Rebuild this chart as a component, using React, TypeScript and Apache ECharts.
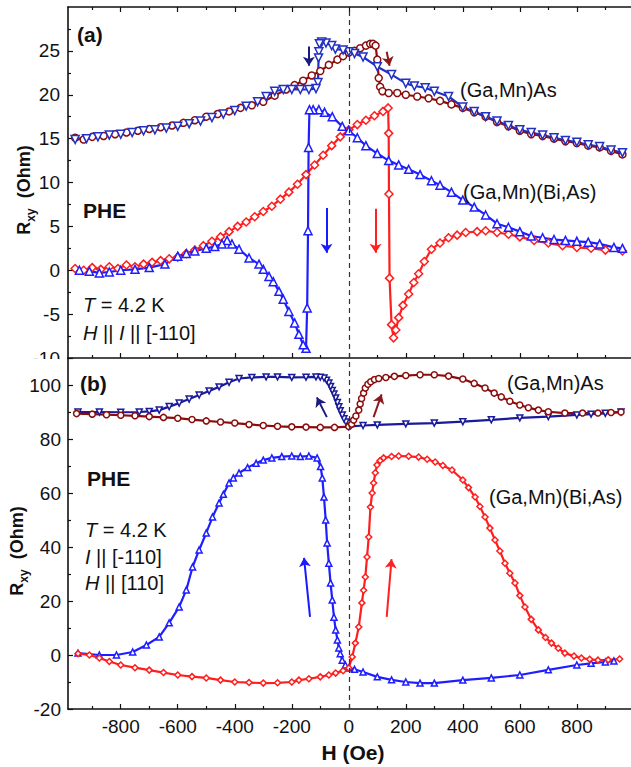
import React, { useEffect, useRef } from "react";
import * as echarts from "echarts";

// ---------- data (H in Oe, Rxy in Ohm) ----------
// Panel (a)
const aGaMnAsUp: [number, number][] = [
  [-960, 15.1], [-930, 14.9], [-900, 15.2], [-860, 15.3], [-820, 15.5], [-780, 15.7], [-740, 15.9], [-700, 16.1],
  [-660, 16.3], [-620, 16.5], [-580, 16.8], [-540, 17.1], [-500, 17.5], [-460, 17.8], [-420, 18.1], [-380, 18.5],
  [-340, 18.8], [-300, 19.2], [-260, 19.9], [-220, 20.6], [-190, 21.1], [-160, 21.6], [-130, 22.2], [-100, 22.7],
  [-70, 23.4], [-40, 24.0], [-20, 24.4], [0, 24.8], [20, 25.0], [40, 25.3], [60, 25.6], [75, 25.8], [85, 25.8],
  [94, 25.6], [100, 24.0], [105, 21.9], [110, 20.9], [118, 20.4], [140, 20.2], [170, 20.2], [200, 20.0], [240, 19.8],
  [280, 19.6], [320, 19.3], [360, 18.9], [400, 18.5], [440, 18.0], [480, 17.5], [520, 16.9], [560, 16.4], [600, 15.9],
  [640, 15.5], [680, 15.3], [720, 15.0], [760, 14.7], [800, 14.5], [840, 14.2], [880, 14.0], [920, 13.6], [960, 13.2],
];
const aGaMnAsDown: [number, number][] = [
  [960, 13.4], [920, 13.7], [880, 14.1], [840, 14.3], [800, 14.6], [760, 14.8], [720, 15.1], [680, 15.4], [640, 15.7],
  [600, 16.0], [560, 16.5], [520, 17.0], [480, 17.5], [440, 18.1], [400, 18.6], [350, 19.8], [300, 20.4], [268, 20.8],
  [230, 21.0], [200, 21.3], [150, 22.3], [100, 23.2], [50, 24.3], [20, 24.7], [0, 24.9], [-20, 25.1], [-47, 25.2],
  [-60, 25.6], [-80, 25.9], [-95, 26.0], [-103, 25.8], [-105, 24.9], [-106, 24.2], [-108, 21.4], [-115, 20.7],
  [-140, 20.6], [-170, 20.6], [-200, 20.6], [-230, 20.6], [-260, 20.4], [-290, 19.8], [-320, 19.2], [-360, 18.7],
  [-400, 18.2], [-440, 17.8], [-480, 17.4], [-520, 17.0], [-560, 16.7], [-600, 16.4], [-640, 16.2], [-680, 16.0],
  [-720, 15.9], [-760, 15.7], [-800, 15.5], [-840, 15.4], [-880, 15.2], [-920, 15.0], [-960, 14.9],
];
const aGaMnBiAsUp: [number, number][] = [
  [-960, 0.2], [-930, 0.0], [-900, 0.3], [-870, 0.1], [-840, 0.4], [-810, 0.2], [-780, 0.6], [-750, 0.4], [-720, 0.7],
  [-690, 0.9], [-660, 1.1], [-630, 1.3], [-600, 1.5], [-570, 1.9], [-540, 2.3], [-510, 2.8], [-480, 3.3], [-450, 3.8],
  [-420, 4.4], [-390, 5.0], [-360, 5.5], [-330, 6.1], [-300, 6.7], [-270, 7.3], [-240, 8.1], [-210, 8.9], [-180, 9.8],
  [-150, 10.9], [-120, 12.0], [-90, 13.1], [-60, 14.2], [-30, 15.2], [0, 16.0], [30, 16.6], [60, 17.1], [90, 17.6],
  [120, 18.1], [138, 18.5], [140, 15.6], [141, 8.7], [143, -0.9], [150, -6.2], [157, -7.7], [165, -6.8], [175, -5.4],
  [190, -4.0], [210, -2.7], [228, -1.4], [245, -0.4], [265, 1.0], [290, 2.4], [320, 3.1], [350, 3.7], [380, 4.0],
  [410, 4.3], [450, 4.4], [480, 4.5], [520, 4.3], [560, 4.1], [600, 3.8], [650, 3.4], [700, 3.1], [750, 2.8],
  [800, 2.6], [850, 2.5], [900, 2.3], [960, 2.2],
];
const aGaMnBiAsDown: [number, number][] = [
  [960, 2.5], [930, 2.6], [880, 3.0], [840, 3.2], [800, 3.3], [760, 3.4], [720, 3.5], [680, 3.7], [640, 3.9],
  [600, 4.4], [560, 4.9], [520, 5.3], [480, 6.3], [440, 7.2], [400, 8.0], [360, 8.9], [320, 9.7], [290, 10.2],
  [250, 10.9], [210, 11.5], [175, 12.0], [140, 12.5], [100, 13.3], [60, 14.2], [30, 15.1], [0, 15.9], [-23, 16.4],
  [-58, 17.5], [-85, 18.0], [-105, 18.3], [-125, 18.3], [-138, 18.3], [-141, 14.0], [-143, 4.5], [-146, -4.3],
  [-150, -8.9], [-160, -8.5], [-175, -7.3], [-190, -6.0], [-210, -4.7], [-230, -3.3], [-245, -2.4], [-265, -1.3],
  [-280, -0.7], [-300, 0.1], [-315, 0.7], [-350, 1.4], [-385, 2.4], [-410, 3.0], [-427, 3.4], [-445, 3.0],
  [-470, 2.7], [-500, 2.5], [-540, 2.2], [-570, 1.9], [-600, 1.6], [-645, 0.7], [-700, 0.3], [-750, 0.1],
  [-800, 0.0], [-840, -0.2], [-875, -0.3], [-910, -0.1], [-945, 0.0],
];
// Panel (b)
const bGaMnAsUp: [number, number][] = [
  [-955, 89.4], [-900, 89.2], [-850, 89.0], [-800, 88.8], [-750, 88.6], [-700, 88.3], [-650, 88.0], [-600, 87.7],
  [-550, 87.2], [-500, 86.7], [-450, 86.3], [-400, 85.9], [-350, 85.4], [-300, 85.0], [-250, 84.7], [-200, 84.5],
  [-150, 84.4], [-100, 84.3], [-50, 84.3], [0, 84.6], [10, 85.5], [17, 87.0], [25, 88.5], [35, 90.7], [40, 93.0],
  [45, 95.0], [52, 97.0], [58, 98.9], [67, 100.3], [77, 101.2], [90, 102.0], [105, 102.4], [130, 102.8],
  [160, 103.2], [200, 103.5], [250, 103.8], [300, 103.8], [350, 103.3], [400, 102.2], [440, 100.6], [478, 98.9],
  [510, 97.0], [535, 95.6], [565, 94.0], [600, 92.6], [630, 91.6], [665, 90.7], [700, 90.1], [758, 89.6],
  [820, 89.6], [874, 89.6], [920, 89.8], [955, 90.0],
];
const bGaMnAsDown: [number, number][] = [
  [955, 90.0], [900, 89.5], [850, 89.2], [800, 88.9], [700, 88.3], [600, 87.8], [500, 87.1], [400, 86.4],
  [300, 85.9], [200, 85.6], [100, 85.2], [50, 85.0], [0, 84.6], [-10, 86.3], [-17, 87.5], [-23, 88.9], [-30, 90.5],
  [-35, 91.9], [-40, 93.5], [-46, 95.2], [-52, 96.7], [-58, 98.0], [-64, 99.4], [-70, 100.7], [-78, 101.8],
  [-87, 102.6], [-100, 102.9], [-115, 103.0], [-150, 102.9], [-200, 102.8], [-250, 103.0], [-290, 103.0],
  [-340, 102.8], [-385, 102.4], [-420, 101.0], [-455, 99.3], [-490, 97.8], [-525, 96.3], [-560, 94.8],
  [-595, 93.3], [-630, 92.0], [-665, 90.7], [-700, 90.2], [-735, 90.0], [-800, 89.9], [-875, 90.0], [-950, 90.0],
];
const bGaMnBiAsUp: [number, number][] = [
  [-950, 0.5], [-910, 0.0], [-875, -1.1], [-840, -2.4], [-800, -3.7], [-750, -4.7], [-700, -5.6], [-650, -6.5],
  [-600, -7.4], [-550, -8.0], [-500, -8.5], [-450, -9.3], [-400, -10.0], [-350, -10.2], [-300, -10.4],
  [-250, -10.3], [-200, -10.0], [-175, -9.3], [-140, -8.8], [-100, -8.1], [-70, -7.4], [-46, -6.7], [-20, -5.8],
  [0, -4.8], [12, -0.7], [23, 4.4], [35, 10.4], [46, 19.3], [52, 24.0], [58, 28.9], [64, 36.3], [70, 43.7],
  [76, 54.8], [82, 60.0], [87, 63.7], [93, 67.5], [99, 70.4], [110, 72.0], [122, 73.0], [150, 73.5], [175, 73.7],
  [210, 73.6], [245, 73.3], [275, 72.5], [303, 71.5], [330, 70.2], [362, 68.5], [400, 64.8], [420, 62.0],
  [443, 58.5], [460, 55.0], [478, 51.1], [495, 47.0], [513, 42.6], [530, 38.5], [548, 34.0], [565, 30.3],
  [583, 26.7], [600, 22.0], [618, 17.8], [640, 13.2], [665, 9.3], [690, 6.5], [711, 4.4], [735, 2.5], [758, 0.7],
  [790, -0.4], [816, -1.1], [845, -1.6], [874, -1.9], [910, -1.8], [950, -1.5],
];
const bGaMnBiAsDown: [number, number][] = [
  [930, -2.2], [900, -2.6], [850, -3.1], [800, -3.7], [700, -5.5], [600, -7.4], [500, -8.5], [400, -9.3],
  [300, -10.4], [250, -10.4], [200, -10.0], [150, -9.2], [100, -8.1], [50, -6.3], [20, -5.3], [0, -4.8],
  [-12, -3.7], [-23, -1.9], [-30, 0.5], [-35, 2.6], [-40, 5.6], [-46, 9.3], [-52, 14.0], [-58, 20.4], [-64, 26.7],
  [-70, 34.0], [-76, 41.5], [-81, 50.0], [-87, 58.5], [-93, 65.6], [-99, 69.8], [-111, 73.0], [-140, 73.7],
  [-170, 73.5], [-200, 73.7], [-235, 73.5], [-270, 73.0], [-300, 72.2], [-325, 71.0], [-355, 69.4], [-385, 67.4],
  [-405, 65.6], [-420, 63.7], [-440, 59.5], [-455, 56.3], [-478, 51.1], [-500, 45.2], [-525, 38.9], [-548, 32.6],
  [-570, 24.1], [-595, 17.8], [-630, 11.9], [-665, 6.7], [-710, 3.7], [-758, 1.1], [-815, 0.0], [-875, 0.0],
  [-950, 0.7],
];

// arrows [x1, y1, x2, y2]
const aArrows: { c: [number, number, number, number]; col: string }[] = [
  { c: [-140, 25.5, -140, 23.3], col: "#1a1a80" },
  { c: [133, 24.9, 143, 23.3], col: "#8b1a1a" },
  { c: [-78, 7.1, -78, 2.0], col: "#1a1aff" },
  { c: [94, 7.0, 94, 2.0], col: "#ff2020" },
];
const bArrows: { c: [number, number, number, number]; col: string }[] = [
  { c: [-77, 88.1, -112, 95.4], col: "#1a1a80" },
  { c: [87, 88.1, 115, 96.5], col: "#8b1a1a" },
  { c: [-136, 14.1, -157, 36.0], col: "#1a1aff" },
  { c: [133, 14.1, 150, 35.5], col: "#ff2020" },
];

// axes ticks
const xMajor = [-800, -600, -400, -200, 0, 200, 400, 600, 800];
const xMinor = [-900, -700, -500, -300, -100, 100, 300, 500, 700, 900];
const aYMajor = [-10, -5, 0, 5, 10, 15, 20, 25];
const aYMinor = [-7.5, -2.5, 2.5, 7.5, 12.5, 17.5, 22.5, 27.5];
const bYMajor = [-20, 0, 20, 40, 60, 80, 100];
const bYMinor = [-10, 10, 30, 50, 70, 90];

const FONT = '"Liberation Sans", Arial, sans-serif';
const DARKRED = "#8b0c0c";
const NAVY_A = "#2230c4";
const NAVY_B = "#1a1a9a";
const BLUE = "#1e1eff";
const RED = "#ff1e1e";

function series(
  name: string,
  data: [number, number][],
  color: string,
  symbol: string,
  rotate: number,
  xi: number,
  yi: number,
  size: number,
  extra: any = {}
) {
  return {
    name,
    type: "line",
    xAxisIndex: xi,
    yAxisIndex: yi,
    data,
    symbol,
    symbolRotate: rotate,
    symbolSize: size,
    showAllSymbol: true,
    lineStyle: { color, width: 2.2 },
    itemStyle: { color: "#ffffff", borderColor: color, borderWidth: 1.5 },
    emphasis: { disabled: true },
    z: 3,
    ...extra,
  };
}

function arrowMarkLine(arrows: { c: [number, number, number, number]; col: string }[]) {
  return {
    silent: true,
    symbol: ["none", "arrow"],
    symbolSize: 9,
    label: { show: false },
    emphasis: { disabled: true },
    animation: false,
    data: arrows.map((a) => [
      { coord: [a.c[0], a.c[1]], lineStyle: { color: a.col, width: 2, type: "solid" }, itemStyle: { color: a.col } },
      { coord: [a.c[2], a.c[3]] },
    ]),
  };
}

function zeroMarkLine() {
  return {
    silent: true,
    symbol: ["none", "none"],
    label: { show: false },
    emphasis: { disabled: true },
    animation: false,
    lineStyle: { type: [5, 4], color: "#333", width: 1.2 },
    data: [{ xAxis: 0 }],
  };
}

function txt(x: number, y: number, text: string, rich: any, extra: any = {}) {
  return {
    type: "text",
    x,
    y,
    z: 50,
    style: {
      text,
      rich,
      align: "left",
      verticalAlign: "middle",
      fontFamily: FONT,
      fontSize: 20,
      fill: "#111",
      ...extra,
    },
  };
}

const R20 = {
  n: { fontFamily: FONT, fontSize: 20, fill: "#111" },
  i: { fontFamily: FONT, fontSize: 20, fontStyle: "italic", fill: "#111" },
  b: { fontFamily: FONT, fontSize: 21, fontWeight: "bold", fill: "#111" },
};
const RY = {
  r: { fontFamily: FONT, fontSize: 18, fontWeight: "bold", fill: "#111", lineHeight: 26, verticalAlign: "middle" },
  s: { fontFamily: FONT, fontSize: 12, fontWeight: "bold", fill: "#111", lineHeight: 12, verticalAlign: "bottom" },
};

function xAxisSet(grid: number, withLabels: boolean, top: boolean) {
  const base = {
    type: "value",
    gridIndex: grid,
    min: -985,
    max: 990,
    position: top ? "top" : "bottom",
    splitLine: { show: false },
  };
  return [
    {
      ...base,
      axisLine: { show: true, onZero: false, lineStyle: { color: "#111", width: 1.6 } },
      axisTick: { show: true, inside: true, length: 5, customValues: xMajor, lineStyle: { color: "#111", width: 1.2 } },
      axisLabel: withLabels
        ? { show: true, customValues: xMajor, fontFamily: FONT, fontSize: 19, color: "#111", margin: 8 }
        : { show: false },
    },
    {
      ...base,
      axisLine: { show: false, onZero: false },
      axisTick: { show: true, inside: true, length: 3, customValues: xMinor, lineStyle: { color: "#111", width: 1.2 } },
      axisLabel: { show: false },
    },
  ];
}

function yAxisSet(grid: number, min: number, max: number, major: number[], minor: number[], margin: number) {
  const base = {
    type: "value",
    gridIndex: grid,
    min,
    max,
    position: "left",
    splitLine: { show: false },
  };
  return [
    {
      ...base,
      axisLine: { show: true, onZero: false, lineStyle: { color: "#111", width: 1.6 } },
      axisTick: { show: true, inside: true, length: 5, customValues: major, lineStyle: { color: "#111", width: 1.2 } },
      axisLabel: { show: true, customValues: major, fontFamily: FONT, fontSize: 19, color: "#111", margin },
    },
    {
      ...base,
      axisLine: { show: false, onZero: false },
      axisTick: { show: true, inside: true, length: 3, customValues: minor, lineStyle: { color: "#111", width: 1.2 } },
      axisLabel: { show: false },
    },
  ];
}

export default function App() {
  const ref = useRef<HTMLDivElement>(null);
  useEffect(() => {
    if (!ref.current) return;
    const chart = echarts.init(ref.current, null, { renderer: "svg" });
    const xAxes = [
      ...xAxisSet(0, false, false), // 0,1
      ...xAxisSet(0, false, true), // 2,3
      ...xAxisSet(1, true, false), // 4,5
    ];
    const yAxes = [
      ...yAxisSet(0, -10, 30, aYMajor, aYMinor, 8), // 0,1
      ...yAxisSet(1, -20, 110, bYMajor, bYMinor, 7), // 2,3
    ];
    const option: any = {
      animation: false,
      backgroundColor: "#ffffff",
      grid: [
        { left: 68, top: 7, width: 565, height: 351, containLabel: false },
        { left: 68, top: 358, width: 565, height: 351, containLabel: false },
      ],
      xAxis: xAxes,
      yAxis: yAxes,
      series: [
        series("a GaMnAs up", aGaMnAsUp, DARKRED, "circle", 0, 0, 0, 7, {
          markLine: arrowMarkLine(aArrows),
        }),
        series("a GaMnAs down", aGaMnAsDown, NAVY_A, "triangle", 180, 0, 0, 8, {
          markLine: zeroMarkLine(),
        }),
        series("a GaMnBiAs up", aGaMnBiAsUp, RED, "diamond", 0, 0, 0, 8),
        series("a GaMnBiAs down", aGaMnBiAsDown, BLUE, "triangle", 0, 0, 0, 8),
        series("b GaMnAs down", bGaMnAsDown, NAVY_B, "triangle", 180, 4, 2, 6, {
          markLine: arrowMarkLine(bArrows),
        }),
        series("b GaMnAs up", bGaMnAsUp, DARKRED, "circle", 0, 4, 2, 6, {
          markLine: zeroMarkLine(),
        }),
        series("b GaMnBiAs down", bGaMnBiAsDown, BLUE, "triangle", 0, 4, 2, 6),
        series("b GaMnBiAs up", bGaMnBiAsUp, RED, "diamond", 0, 4, 2, 6),
      ],
      graphic: [
        { type: "rect", shape: { x: 0, y: 359, width: 66, height: 12 }, style: { fill: "#ffffff" }, z: 100 },
        // panel a
        txt(77, 34, "{b|(a)}", R20),
        txt(83, 210, "{b|PHE}", R20),
        txt(83, 305, "{i|T}{n| = 4.2 K}", R20),
        txt(83, 333, "{i|H}{n| || }{i|I}{n| || [-110]}", R20),
        txt(460, 90, "{n|(Ga,Mn)As}", R20),
        txt(463, 192, "{n|(Ga,Mn)(Bi,As)}", R20),
        // panel b
        txt(80, 383, "{b|(b)}", R20),
        txt(87, 478, "{b|PHE}", R20),
        txt(85, 530, "{i|T}{n| = 4.2 K}", R20),
        txt(85, 557, "{i|I}{n| || [-110]}", R20),
        txt(85, 583, "{i|H}{n| || [110]}", R20),
        txt(507, 383, "{n|(Ga,Mn)As}", R20),
        txt(489, 497, "{n|(Ga,Mn)(Bi,As)}", R20),
        // axis titles
        {
          type: "text",
          x: 24,
          y: 190,
          rotation: Math.PI / 2,
          z: 50,
          style: { text: "{r|R}{s|xy}{r|  (Ohm)}", rich: RY, align: "center", verticalAlign: "middle" },
        },
        {
          type: "text",
          x: 17,
          y: 551,
          rotation: Math.PI / 2,
          z: 50,
          style: { text: "{r|R}{s|xy}{r|  (Ohm)}", rich: RY, align: "center", verticalAlign: "middle" },
        },
        {
          type: "text",
          x: 353,
          y: 752,
          z: 50,
          style: {
            text: "H (Oe)",
            fontFamily: FONT,
            fontSize: 21,
            fontWeight: "bold",
            fill: "#111",
            align: "center",
            verticalAlign: "middle",
          },
        },
      ],
    };
    chart.setOption(option);
    return () => chart.dispose();
  }, []);
  return (
    <div
      ref={ref}
      style={{ position: "fixed", left: 0, top: 0, width: 631, height: 767, background: "#fff" }}
    />
  );
}
